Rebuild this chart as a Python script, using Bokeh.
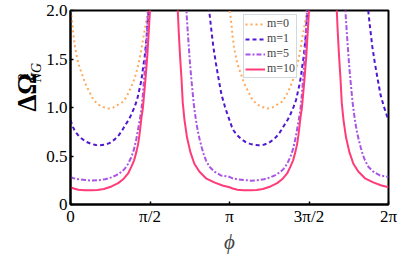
from bokeh.plotting import figure
from bokeh.models import Range1d, FixedTicker, Legend, LegendItem
from bokeh.layouts import row
from bokeh.core.properties import value
from bokeh.embed import file_html
from bokeh.resources import INLINE

# ---- data (phi in units of pi) ----
phi_m0 = [0.000, 0.008, 0.013, 0.019, 0.028, 0.039, 0.050, 0.071, 0.092, 0.113, 0.144, 0.175, 0.206, 0.238,
          0.269, 0.300, 0.331, 0.352, 0.373, 0.394, 0.414, 0.429, 0.446, 0.458, 0.471, 0.483, 0.495, 0.985,
          1.000, 1.008, 1.013, 1.019, 1.028, 1.039, 1.050, 1.071, 1.092, 1.113, 1.144, 1.175, 1.206, 1.238,
          1.269, 1.300, 1.331, 1.352, 1.373, 1.394, 1.414, 1.429, 1.446, 1.458, 1.471, 1.483, 1.495, 1.985, 2.000]
val_m0 = [2.00, 1.92, 1.84, 1.74, 1.63, 1.53, 1.45, 1.35, 1.25, 1.18, 1.08, 1.03, 1.005, 0.99,
          1.00, 1.03, 1.06, 1.11, 1.18, 1.26, 1.36, 1.46, 1.60, 1.72, 1.84, 1.95, 2.30, 2.20,
          2.00, 1.92, 1.84, 1.74, 1.63, 1.53, 1.45, 1.35, 1.25, 1.18, 1.08, 1.03, 1.005, 0.99,
          1.00, 1.03, 1.06, 1.11, 1.18, 1.26, 1.36, 1.46, 1.60, 1.72, 1.84, 1.95, 2.30, 2.20, 2.00]

phi_m1 = [0.000, 0.015, 0.027, 0.045, 0.070, 0.100, 0.130, 0.160, 0.185, 0.215, 0.245, 0.280, 0.305, 0.325,
          0.345, 0.367, 0.384, 0.404, 0.419, 0.429, 0.442, 0.450, 0.458, 0.467, 0.473, 0.479, 0.483, 0.489,
          0.497, 0.860, 0.873, 0.883, 0.898, 0.914, 0.931, 0.950, 0.971, 0.985,
          1.000, 1.015, 1.027, 1.045, 1.070, 1.100, 1.130, 1.160, 1.185, 1.215, 1.245, 1.280, 1.305, 1.325,
          1.345, 1.367, 1.384, 1.404, 1.419, 1.429, 1.442, 1.450, 1.458, 1.467, 1.473, 1.479, 1.483, 1.489,
          1.497, 1.860, 1.873, 1.883, 1.898, 1.914, 1.931, 1.950, 1.971, 1.985, 2.000]
val_m1 = [0.87, 0.80, 0.76, 0.72, 0.68, 0.645, 0.625, 0.613, 0.61, 0.616, 0.633, 0.674, 0.717, 0.765,
          0.82, 0.876, 0.933, 1.01, 1.08, 1.155, 1.25, 1.33, 1.43, 1.53, 1.63, 1.73, 1.84, 1.94,
          2.50, 2.30, 1.99, 1.84, 1.63, 1.46, 1.30, 1.13, 1.01, 0.94,
          0.87, 0.80, 0.76, 0.72, 0.68, 0.645, 0.625, 0.613, 0.61, 0.616, 0.633, 0.674, 0.717, 0.765,
          0.82, 0.876, 0.933, 1.01, 1.08, 1.155, 1.25, 1.33, 1.43, 1.53, 1.63, 1.73, 1.84, 1.94,
          2.50, 2.30, 1.99, 1.84, 1.63, 1.46, 1.30, 1.13, 1.01, 0.94, 0.87]

phi_m5 = [0.000, 0.019, 0.050, 0.092, 0.133, 0.175, 0.217, 0.258, 0.289, 0.321, 0.342, 0.3625, 0.383, 0.400,
          0.414, 0.425, 0.436, 0.446, 0.456, 0.467, 0.477, 0.486, 0.494, 0.725, 0.731, 0.7375, 0.744, 0.750,
          0.756, 0.7625, 0.769, 0.775, 0.783, 0.789, 0.796, 0.804, 0.814, 0.825, 0.8375, 0.852, 0.873, 0.904,
          0.946, 0.9875,
          1.000, 1.019, 1.050, 1.092, 1.133, 1.175, 1.217, 1.258, 1.289, 1.321, 1.342, 1.3625, 1.383, 1.400,
          1.414, 1.425, 1.436, 1.446, 1.456, 1.467, 1.477, 1.486, 1.494, 1.725, 1.731, 1.7375, 1.744, 1.750,
          1.756, 1.7625, 1.769, 1.775, 1.783, 1.789, 1.796, 1.804, 1.814, 1.825, 1.8375, 1.852, 1.873, 1.904,
          1.946, 1.9875, 2.000]
val_m5 = [0.285, 0.27, 0.26, 0.253, 0.246, 0.25, 0.26, 0.28, 0.303, 0.337, 0.37, 0.42, 0.49, 0.573,
          0.674, 0.775, 0.876, 0.977, 1.15, 1.38, 1.65, 1.93, 2.40, 2.30, 1.94, 1.78, 1.63, 1.49,
          1.37, 1.25, 1.14, 1.04, 0.94, 0.87, 0.80, 0.73, 0.66, 0.59, 0.52, 0.455, 0.39, 0.34,
          0.30, 0.288,
          0.285, 0.27, 0.26, 0.253, 0.246, 0.25, 0.26, 0.28, 0.303, 0.337, 0.37, 0.42, 0.49, 0.573,
          0.674, 0.775, 0.876, 0.977, 1.15, 1.38, 1.65, 1.93, 2.40, 2.30, 1.94, 1.78, 1.63, 1.49,
          1.37, 1.25, 1.14, 1.04, 0.94, 0.87, 0.80, 0.73, 0.66, 0.59, 0.52, 0.455, 0.39, 0.34,
          0.30, 0.288, 0.285]

phi_m10 = [0.000, 0.020, 0.050, 0.090, 0.130, 0.170, 0.210, 0.258, 0.300, 0.331, 0.3625, 0.383, 0.400, 0.414,
           0.425, 0.433, 0.439, 0.446, 0.455, 0.470, 0.483, 0.500, 0.505, 0.670, 0.675, 0.681, 0.689, 0.698,
           0.706, 0.717, 0.733, 0.754, 0.779, 0.810, 0.852, 0.904, 0.956,
           1.000, 1.020, 1.050, 1.090, 1.130, 1.170, 1.210, 1.258, 1.300, 1.331, 1.3625, 1.383, 1.400, 1.414,
           1.425, 1.433, 1.439, 1.446, 1.455, 1.470, 1.483, 1.500, 1.505, 1.670, 1.675, 1.681, 1.689, 1.698,
           1.706, 1.717, 1.733, 1.754, 1.779, 1.810, 1.852, 1.904, 1.956, 2.000]
val_m10 = [0.178, 0.165, 0.152, 0.147, 0.146, 0.150, 0.160, 0.186, 0.22, 0.26, 0.32, 0.39, 0.455, 0.54,
           0.62, 0.71, 0.79, 0.89, 0.99, 1.26, 1.53, 2.00, 2.60, 2.50, 1.99, 1.77, 1.53, 1.30,
           1.05, 0.87, 0.69, 0.54, 0.42, 0.34, 0.27, 0.228, 0.196,
           0.178, 0.165, 0.152, 0.147, 0.146, 0.150, 0.160, 0.186, 0.22, 0.26, 0.32, 0.39, 0.455, 0.54,
           0.62, 0.71, 0.79, 0.89, 0.99, 1.26, 1.53, 2.00, 2.60, 2.50, 1.99, 1.77, 1.53, 1.30,
           1.05, 0.87, 0.69, 0.54, 0.42, 0.34, 0.27, 0.228, 0.196, 0.178]

series_labels = ["m=0", "m=1", "m=5", "m=10"]
x_ticks = [0, 0.5, 1, 1.5, 2]
x_tick_labels = ["0", "π/2", "π", "3π/2", "2π"]
y_ticks = [0, 0.5, 1, 1.5, 2]
y_tick_labels = ["0", "0.5", "1.0", "1.5", "2.0"]
x_title = "ϕ"
y_title_main, y_title_sup, y_title_sub = "ΔΩ", "2", "NG"

SERIF = "Liberation Serif"
LEFT_W = 43

# ---- main plot ----
p = figure(width=399 - LEFT_W, height=256, x_range=Range1d(0, 2), y_range=Range1d(0, 2),
           output_backend="svg", toolbar_location=None,
           min_border_left=68 - LEFT_W, min_border_right=11, min_border_top=10, min_border_bottom=49)
p.grid.visible = False
p.background_fill_color = "white"
p.border_fill_color = "white"
p.outline_line_color = "black"
p.outline_line_width = 2

for ax in (p.xaxis[0], p.yaxis[0]):
    ax.axis_line_color = "black"
    ax.axis_line_width = 2
    ax.major_tick_in = 3
    ax.major_tick_out = 0
    ax.major_tick_line_width = 1.5
    ax.minor_tick_line_color = None
    ax.major_label_text_font = SERIF
    ax.major_label_text_font_size = "17px"
    ax.major_label_text_color = "black"

p.xaxis.ticker = FixedTicker(ticks=x_ticks)
p.xaxis.major_label_overrides = {t: s for t, s in zip(x_ticks, x_tick_labels)}
p.xaxis.major_label_standoff = 2
p.xaxis.axis_label = x_title
p.xaxis.axis_label_text_font = SERIF
p.xaxis.axis_label_text_font_style = "italic"
p.xaxis.axis_label_text_font_size = "21px"
p.xaxis.axis_label_standoff = 1
p.yaxis.ticker = FixedTicker(ticks=y_ticks)
p.yaxis.major_label_overrides = {t: s for t, s in zip(y_ticks, y_tick_labels)}
p.yaxis.major_label_standoff = 3

r0 = p.line(phi_m0, val_m0, line_color="#FFAA5A", line_width=2, line_dash="2 3")
r1 = p.line(phi_m1, val_m1, line_color="#4F17CF", line_width=2, line_dash="4 3")
r5 = p.line(phi_m5, val_m5, line_color="#A855E6", line_width=2, line_dash="5 2 2 2")
r10 = p.line(phi_m10, val_m10, line_color="#FF3B78", line_width=2)

legend = Legend(items=[LegendItem(label=l, renderers=[r]) for l, r in zip(series_labels, [r0, r1, r5, r10])],
                location=(173, 126), orientation="vertical",
                label_text_font=SERIF, label_text_font_size="12px", label_text_line_height=1.0,
                glyph_width=20, glyph_height=10, label_height=10, label_standoff=2,
                spacing=0, padding=1, margin=0,
                border_line_color="#A3B4BA", border_line_width=1,
                background_fill_color="white", background_fill_alpha=1)
p.add_layout(legend)

# ---- left strip holding the y-axis title ----
pl = figure(width=LEFT_W, height=256, x_range=Range1d(0, LEFT_W), y_range=Range1d(0, 256),
            output_backend="svg", toolbar_location=None, x_axis_location=None, y_axis_location=None,
            min_border_left=0, min_border_right=0, min_border_top=0, min_border_bottom=0)
pl.grid.visible = False
pl.outline_line_color = None
pl.background_fill_color = "white"
pl.border_fill_color = "white"
pl.text(x=[26.5], y=[148], text=[y_title_main], angle=1.5707963, text_align="center", text_baseline="middle",
        text_font=value(SERIF), text_font_style="bold", text_font_size="27px", text_color="black")
pl.text(x=[22], y=[168.5], text=[y_title_sup], angle=1.5707963, text_align="center", text_baseline="middle",
        text_font=value(SERIF), text_font_size="14px", text_color="black")
pl.text(x=[35.5], y=[174], text=[y_title_sub], angle=1.5707963, text_align="center", text_baseline="middle",
        text_font=value(SERIF), text_font_style="italic", text_font_size="14px", text_color="black")

layout = row(pl, p, spacing=0)
open("out.html", "w").write(file_html(layout, INLINE))
